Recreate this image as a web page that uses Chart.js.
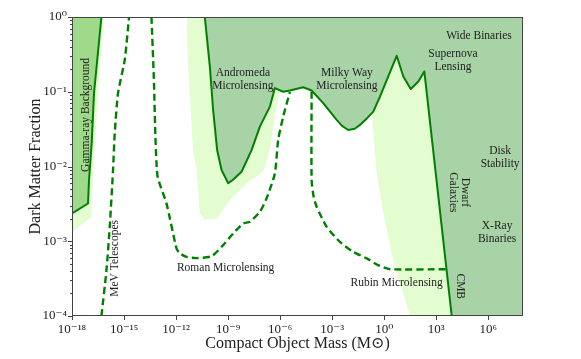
<!DOCTYPE html>
<html lang="en">
<head>
    <meta charset="UTF-8">
    <title>Dark Matter Fraction</title>
    <script src="https://cdn.jsdelivr.net/npm/chart.js"></script>
    <style>
        html, body { margin: 0; padding: 0; background: #fff; }
        #wrap { width: 581px; height: 359px; }
    </style>
</head>
<body>
    <div id="wrap"><canvas id="chart"></canvas></div>

    <script>
        // tick values
        const massTicks = [1e-18, 1e-15, 1e-12, 1e-9, 1e-6, 1e-3, 1e0, 1e3, 1e6];
        const fracTicks = [1e-4, 1e-3, 1e-2, 1e-1, 1e0];

        // Gamma-ray background (current bound)
        const gammaMass  = [1e-18, 8.4e-18, 9.6e-18, 1.37e-17, 1.86e-17, 3.04e-17, 4.97e-17];
        const gammaLimit = [2.36e-3, 3.2e-3, 6.6e-3, 2.07e-2, 9.6e-2, 0.31, 1];

        // Gamma-ray projected reach (light band)
        const gammaReachMass  = [1e-18, 1.32e-17, 1.32e-17, 1.62e-17, 3.16e-17, 6.75e-17];
        const gammaReachLimit = [1.32e-3, 2.12e-3, 3.05e-3, 6.6e-3, 9.6e-2, 1];

        // MeV telescopes (dashed)
        const mevMass  = [4.97e-17, 9.7e-17, 1.5e-16, 2.32e-16, 2.91e-16, 4.51e-16, 1.1e-15, 1.95e-15];
        const mevLimit = [1e-4, 4.1e-4, 1.56e-3, 8.97e-3, 2.79e-2, 9.6e-2, 0.268, 1];

        // Roman microlensing (dashed)
        const romanMass  = [3.82e-14, 5.18e-14, 8.3e-14, 2.8e-13, 1.06e-12, 1.64e-12, 3.98e-12, 1.51e-11, 1.11e-10,
                            5.16e-10, 1.95e-9, 7.36e-9, 1.79e-8, 6.77e-8, 1.65e-7, 4.97e-7, 7.7e-7, 1.5e-6, 3.65e-6];
        const romanLimit = [1, 0.16, 7.7e-3, 3.21e-3, 8.0e-4, 6.9e-4, 6.18e-4, 5.95e-4, 6.3e-4,
                            8.87e-4, 1.27e-3, 1.73e-3, 1.82e-3, 2.48e-3, 3.75e-3, 8.1e-3, 2.27e-2, 4.65e-2, 0.1];

        // Rubin microlensing (dashed)
        const rubinMass  = [6.5e-5, 6.5e-5, 8.5e-5, 1.27e-4, 4.8e-4, 2.8e-3, 1.64e-2, 9.7e-2, 0.436, 2.15, 4.0e3];
        const rubinLimit = [0.1, 6.6e-3, 3.94e-3, 2.89e-3, 1.56e-3, 9.8e-4, 7.2e-4, 5.9e-4, 4.8e-4, 4.23e-4, 4.23e-4];

        // Microlensing / supernova / dwarf galaxies / CMB (current bound)
        const boundMass  = [4.54e-11, 8.83e-11, 1.37e-10, 2.33e-10, 4.18e-10, 1.0e-9, 1.86e-9, 5.96e-9, 2.25e-8,
                            6.77e-8, 2.56e-7, 4.97e-7, 1.5e-6, 3.65e-6, 2.14e-5, 6.5e-5, 3.04e-4, 1.81e-3,
                            3.7e-3, 8.4e-3, 2.0e-2, 3.99e-2, 0.1, 0.234, 0.569, 1.71, 5.23, 12.6, 33.6, 92.3, 205, 7.8e3];
        const boundLimit = [1, 0.218, 5.7e-2, 1.66e-2, 8.97e-3, 6.0e-3, 6.6e-3, 8.5e-3, 1.66e-2,
                            3.42e-2, 6.33e-2, 0.112, 0.1, 0.104, 0.115, 0.104, 7.03e-2, 4.2e-2,
                            3.49e-2, 3.08e-2, 3.2e-2, 3.6e-2, 4.4e-2, 5.43e-2, 8.6e-2, 0.16, 0.303, 0.16, 0.109, 0.137, 0.187, 1e-4];

        // projected reach (light band)
        const reachMass  = [4.0e-12, 4.94e-12, 9.6e-12, 1.51e-11, 2.34e-11, 4.54e-11, 2.15e-10, 1.26e-9, 1.16e-8,
                            1.05e-7, 2.56e-7, 5.68e-7, 9.66e-7, 3.65e-6, 2.14e-5, 6.5e-5, 3.04e-4, 1.81e-3,
                            3.7e-3, 8.4e-3, 2.0e-2, 3.99e-2, 0.1, 0.197, 0.253, 0.38, 0.883, 3.33, 30.6, 1e8];
        const reachLimit = [1, 0.218, 1.66e-2, 8.97e-3, 2.36e-3, 1.96e-3, 2.02e-3, 3.56e-3, 5.96e-3,
                            8.5e-3, 1.66e-2, 5.7e-2, 0.1, 0.104, 0.115, 0.104, 7.03e-2, 4.2e-2,
                            3.49e-2, 3.08e-2, 3.2e-2, 3.6e-2, 4.4e-2, 5.4e-2, 2.27e-2, 7.7e-3, 2.36e-3, 5.58e-4, 1e-4, 1e-4];

        const LINE = '#008000';
        const DARK = '#a8d3a6';
        const GAMMA = '#9fd98a';
        const LIGHT = '#e3fcd0';
        const TEXT = '#222';
        const SERIF = '"Liberation Serif", "DejaVu Serif", serif';

        const pts = (xs, ys) => xs.map((x, i) => ({ x: x, y: ys[i] }));

        // region labels, anchored in data coordinates
        const regionLabels = [
            { lines: ['Gamma-ray Background'], m: 6.3e-18, f: 4.9e-2, rot: -90 },
            { lines: ['MeV Telescopes'], m: 2.9e-16, f: 5.9e-4, rot: -90 },
            { lines: ['Andromeda', 'Microlensing'], m: 7.1e-9, f: 0.146, rot: 0 },
            { lines: ['Milky Way', 'Microlensing'], m: 7.1e-3, f: 0.146, rot: 0 },
            { lines: ['Supernova', 'Lensing'], m: 9.1e3, f: 0.26, rot: 0 },
            { lines: ['Wide Binaries'], m: 2.9e5, f: 0.56, rot: 0 },
            { lines: ['Disk', 'Stability'], m: 4.8e6, f: 1.32e-2, rot: 0 },
            { lines: ['Dwarf', 'Galaxies'], m: 2.1e4, f: 4.5e-3, rot: 90 },
            { lines: ['X-Ray', 'Binaries'], m: 3.2e6, f: 1.3e-3, rot: 0 },
            { lines: ['CMB'], m: 2.3e4, f: 2.5e-4, rot: 90 },
            { lines: ['Roman Microlensing'], m: 7.2e-10, f: 4.4e-4, rot: 0 },
            { lines: ['Rubin Microlensing'], m: 5.2, f: 2.8e-4, rot: 0 }
        ];

        const sup = { '-': '\u207B', '0': '\u2070', '1': '\u00B9', '2': '\u00B2', '3': '\u00B3', '4': '\u2074',
                      '5': '\u2075', '6': '\u2076', '7': '\u2077', '8': '\u2078', '9': '\u2079' };
        const isMajor = v => Math.abs(Math.log10(v) - Math.round(Math.log10(v))) < 1e-6;
        const powLabel = v => '10' + String(Math.round(Math.log10(v))).split('').map(c => sup[c]).join('');

        // minor ticks on the fraction axis
        const fracMinor = [];
        fracTicks.slice(0, -1).forEach(d => { for (let k = 2; k <= 9; k++) fracMinor.push(d * k); });

        const frame = {
            id: 'frame',
            afterDatasetsDraw(chart) {
                const { ctx, chartArea: a, scales } = chart;
                ctx.save();
                // region labels
                ctx.fillStyle = TEXT;
                ctx.font = '11.5px ' + SERIF;
                ctx.textAlign = 'center';
                ctx.textBaseline = 'middle';
                regionLabels.forEach(l => {
                    const px = scales.x.getPixelForValue(l.m);
                    const py = scales.y.getPixelForValue(l.f);
                    ctx.save();
                    ctx.translate(px, py);
                    ctx.rotate(l.rot * Math.PI / 180);
                    const lh = 12.5;
                    const y0 = -(l.lines.length - 1) * lh / 2;
                    l.lines.forEach((t, i) => ctx.fillText(t, 0, y0 + i * lh));
                    ctx.restore();
                });
                // frame
                ctx.strokeStyle = '#444';
                ctx.lineWidth = 1;
                ctx.strokeRect(a.left + 0.5, a.top + 0.5, a.right - a.left - 1, a.bottom - a.top - 1);
                // outward ticks
                ctx.beginPath();
                scales.x.ticks.forEach(t => {
                    const px = Math.round(scales.x.getPixelForValue(t.value)) + 0.5;
                    ctx.moveTo(px, a.bottom);
                    ctx.lineTo(px, a.bottom + 4);
                });
                scales.y.ticks.forEach(t => {
                    const py = Math.round(scales.y.getPixelForValue(t.value)) + 0.5;
                    const len = isMajor(t.value) ? 4 : 2;
                    ctx.moveTo(a.left, py);
                    ctx.lineTo(a.left - len, py);
                });
                ctx.stroke();
                ctx.restore();
            }
        };

        const fillSet = (xs, ys, color, order) => ({
            data: pts(xs, ys), backgroundColor: color, borderWidth: 0, fill: 'end',
            pointRadius: 0, order: order, clip: 0
        });
        const lineSet = (xs, ys, dashed, order) => ({
            data: pts(xs, ys), borderColor: LINE, borderWidth: dashed ? 2.4 : 2,
            borderDash: dashed ? [7, 4] : [], fill: false, pointRadius: 0,
            tension: dashed ? 0.2 : 0,
            order: order, clip: 0, borderJoinStyle: 'round'
        });

        new Chart(document.getElementById('chart'), {
            type: 'line',
            data: {
                datasets: [
                    fillSet(reachMass, reachLimit, LIGHT, 9),
                    fillSet(gammaReachMass, gammaReachLimit, LIGHT, 9),
                    // the bound region also covers everything right of the CMB line
                    fillSet(boundMass.concat([1e8]), boundLimit.concat([1e-4]), DARK, 8),
                    fillSet(gammaMass, gammaLimit, GAMMA, 8),
                    lineSet(mevMass, mevLimit, true, 3),
                    lineSet(romanMass, romanLimit, true, 3),
                    lineSet(rubinMass, rubinLimit, true, 3),
                    lineSet(boundMass, boundLimit, false, 1),
                    lineSet(gammaMass, gammaLimit, false, 1)
                ]
            },
            options: {
                responsive: true,
                maintainAspectRatio: false,
                animation: false,
                layout: { padding: { top: 17, right: 58, left: 0, bottom: 0 } },
                plugins: { legend: { display: false }, tooltip: { enabled: false } },
                scales: {
                    x: {
                        type: 'logarithmic',
                        min: 1e-18, max: 1e8,
                        grid: { display: false, drawTicks: false },
                        border: { display: false },
                        afterBuildTicks: s => { s.ticks = massTicks.map(v => ({ value: v })); },
                        afterFit: s => { s.height = 43; },
                        ticks: {
                            autoSkip: false, maxRotation: 0, padding: 6, color: TEXT,
                            font: { family: SERIF, size: 13 },
                            callback: v => powLabel(v)
                        },
                        title: {
                            display: true, text: 'Compact Object Mass (M\u2299)', color: TEXT,
                            font: { family: SERIF, size: 16 }, padding: { top: 0, bottom: 6 }
                        }
                    },
                    y: {
                        type: 'logarithmic',
                        min: 1e-4, max: 1,
                        grid: { display: false, drawTicks: false },
                        border: { display: false },
                        afterBuildTicks: s => { s.ticks = fracTicks.concat(fracMinor).map(v => ({ value: v })); },
                        afterFit: s => { s.width = 72; },
                        ticks: {
                            autoSkip: false, padding: 5, color: TEXT,
                            font: { family: SERIF, size: 13 },
                            callback: v => isMajor(v) ? powLabel(v) : ''
                        },
                        title: {
                            display: true, text: 'Dark Matter Fraction', color: TEXT,
                            font: { family: SERIF, size: 16 }, padding: { top: 26, bottom: 0 }
                        }
                    }
                }
            },
            plugins: [frame]
        });
    </script>
</body>
</html>
